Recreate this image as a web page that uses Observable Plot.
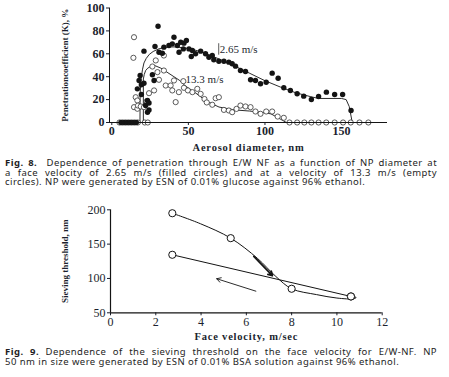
<!DOCTYPE html>
<html>
<head>
<meta charset="utf-8">
<script src="https://cdn.jsdelivr.net/npm/d3@7"></script>
<script src="https://cdn.jsdelivr.net/npm/@observablehq/plot@0.6"></script>
<style>
  html, body { margin: 0; padding: 0; background: #fff; }
  body { width: 449px; height: 377px; position: relative; overflow: hidden; }
  .chart { position: absolute; left: 0; }
  .cap { position: absolute; left: 5px; width: 432px; font-family: "Noto Sans", sans-serif; font-size: 9.5px; letter-spacing: 0.45px; line-height: 9.6px; color: #1e1e24; }
  .cap div { text-align: justify; text-align-last: justify; white-space: nowrap; height: 9.6px; }
  .cap div.last { text-align-last: left; }
  .cap b { font-weight: bold; }
  svg g[aria-label="x-axis label"] text { font-size: 10.5px; font-weight: bold; letter-spacing: 0.8px; }
  svg g[aria-label="y-axis label"] text { font-size: 9px; font-weight: bold; }
</style>
</head>
<body>
<div id="c8" class="chart" style="top:0px"></div>
<div class="cap" style="top:158px">
  <div><b>Fig. 8.</b>&nbsp; Dependence of penetration through E/W NF as a function of NP diameter at</div>
  <div>a face velocity of 2.65 m/s (filled circles) and at a velocity of 13.3 m/s (empty</div>
  <div class="last">circles). NP were generated by ESN of 0.01% glucose against 96% ethanol.</div>
</div>
<div id="c9" class="chart" style="top:195px"></div>
<div class="cap" style="top:347px">
  <div><b>Fig. 9.</b> Dependence of the sieving threshold on the face velocity for E/W-NF. NP</div>
  <div class="last">50 nm in size were generated by ESN of 0.01% BSA solution against 96% ethanol.</div>
</div>
<script>
// ---------- Fig. 8 data: [diameter nm, penetration %] ----------
const filled265 = [
  [6,0],[8,0],[10,0],[12,0],[14,0],[16,0],
  [16.7,29.4],[17.8,36.7],[18.5,41],[19.3,33],[19.3,24.5],[21,62.3],[21,34.3],
  [22.1,14.8],[23.3,19.2],[23.3,9],[24.3,11],[24.3,17],[26.5,41.7],[27.6,36.7],
  [30.2,84],[28.2,66.4],[30.8,61.4],[33,60.5],[34,65.8],[37.3,67.2],[39.5,68.7],
  [40.6,74.5],[42.8,67.2],[43.9,61.4],[45,70.1],[46.7,64.3],[47.1,69.3],[48.7,71.6],
  [50.4,64.3],[51.9,57.6],[52.6,62.9],[54.7,60],[58,62.3],[61.2,60],[63.4,57],
  [65.6,58.5],[66.6,54.8],[69.9,53.5],[73.2,53.5],[76.4,52.7],[78.6,51.3],[80.8,49.2],
  [84,45.4],[87.3,44.5],[90.6,37.3],[93.8,36.7],[97.1,33.8],[100.8,35.2],[104.7,43.1],
  [108.6,38.7],[112.3,30.3],[116.6,27.9],[121,25.1],[125.3,23],[130.3,20.1],[135,22.7],
  [140.1,26.5],[145.5,24.5],[150.7,24.5],[156.2,10.5]
];
const open133 = [
  [5,0],[7,0],[9,0],[11,0],[13,0],[15,0],[17,0],[21.5,0],[23.5,0],
  [14.5,74.5],[14.1,56.5],[15.6,22.1],[16.7,19.2],[14.5,13.4],[16.7,12],[17.1,14.8],
  [18.9,14],[21,13.4],[22.8,18.6],[24.3,25.6],[27.6,28],[28.7,54.2],[34,58.5],
  [26.5,48.9],[29.8,44],[34,45.4],[30.8,37.3],[35.2,32.3],[38.4,32.3],[40.6,36.7],
  [46.7,36.1],[39.5,28],[43.8,26.5],[41.7,17.8],[47.1,30.3],[49.7,28],[52.6,26.5],
  [55.8,29.4],[58,25],[60.5,20.5],[62,17.5],[65.6,15.5],[67.8,21.2],[69.9,22.1],
  [73.2,11],[76.4,10.5],[78.6,9],[81.4,11.9],[84,14.8],[87.3,14],[90.6,13.4],
  [93.8,9.6],[97.1,7.6],[100.8,9.6],[104.7,9.6],[108.3,5.2],[112.3,4.1],
  [116,0],[121,0],[125.7,0],[130.3,0],[135,0],[140,0],[145.5,0],[151,0],[156,0],[161.7,0],[167.5,0]
];
const fit265 = [
  [5,0],[18.4,0],[18.5,25],[19,37],[20,46],[21,52],[22.5,56],[24.5,59.5],[27,62],
  [31,64.5],[37,66],[42,66],[48,65],[55,63],[60,61],[70,55.5],[80,49.5],[90,43],
  [100,36.5],[110,31],[120,26],[130,22.5],[135,21],[150,21],[153,20],[155,14],[157,0],[160,0]
];
const fit133 = [
  [5,0],[20.6,0],[20.6,38],[21.2,42],[22.1,45.4],[23.5,47.5],[25.4,49],[28.5,49.5],
  [32,47.5],[36,44],[40,40.5],[44,37],[48,32],[55,25.5],[62,18.5],[70,13.5],[80,11],
  [90,10],[100,8.5],[104,7.5],[110,3],[114,0],[175,0]
];
const labels8 = [
  {text: "2.65 m/s", x: 70.4, y: 63.8, bar: true},
  {text: "13.3 m/s", x: 48.2, y: 37.5, bar: false}
];
const xTicks8 = [0, 50, 100, 150];
const yTicks8 = [0, 20, 40, 60, 80, 100];
const xDomain8 = [-1.5, 180];
const yDomain8 = [0, 100];

// ---------- Fig. 9 data: [face velocity m/s, sieving threshold nm] ----------
const upperPts = [[2.73,195],[5.31,158.7],[8.0,85],[10.62,73.8]];
const upperPath = [[2.73,195],[3.98,179.6],[5.31,158.7],[6.5,129],[7.3,103],[8.0,85],[9.1,76.5],[10.0,71.5],[10.75,70.5],[10.85,72.4],[10.62,73.8]];
const lowerPts = [[2.73,134.5],[10.62,73.8]];
const arrows9 = [
  {x1: 6.33, y1: 132, x2: 7.15, y2: 104, w: 1.8},
  {x1: 6.42, y1: 81.5, x2: 4.69, y2: 99.6, w: 0.9}
];
const xTicks9 = [0, 2, 4, 6, 8, 10, 12];
const yTicks9 = [50, 100, 150, 200];
const xDomain9 = [0, 12];
const yDomain9 = [50, 200];

const ink = "#141414";
const tickInk = "#1b1f2e";

// ---------- Fig. 8 ----------
const p8 = Plot.plot({
  width: 449, height: 152,
  marginLeft: 109, marginRight: 62, marginTop: 7.5, marginBottom: 30,
  style: {fontFamily: "'Liberation Serif', serif", background: "transparent", color: tickInk},
  x: {domain: xDomain8},
  y: {domain: yDomain8},
  marks: [
    Plot.axisX({ticks: xTicks8, tickSize: 3, tickPadding: 1, fontSize: 12, fontWeight: "bold",
      label: "Aerosol diameter, nm", labelAnchor: "center", labelArrow: false, labelOffset: 28, tickFormat: d => String(d)}),
    Plot.axisY({ticks: yTicks8, tickSize: 3, tickPadding: 2, fontSize: 12, fontWeight: "bold",
      label: "Penetrationcoefficient (K), %", labelAnchor: "center", labelArrow: false, labelOffset: 48, tickFormat: d => String(d)}),
    Plot.ruleX([xDomain8[0]], {stroke: ink, strokeWidth: 1}),
    Plot.line(fit265, {x: d => d[0], y: d => d[1], stroke: ink, strokeWidth: 0.9}),
    Plot.line(fit133, {x: d => d[0], y: d => d[1], stroke: ink, strokeWidth: 0.9}),
    Plot.dot(open133, {x: d => d[0], y: d => d[1], r: 2.6, fill: "white", stroke: "#333", strokeWidth: 0.8}),
    Plot.ruleY([yDomain8[0]], {stroke: ink, strokeWidth: 1}),
    Plot.dot(filled265, {x: d => d[0], y: d => d[1], r: 2.7, fill: ink, stroke: "none"}),
    Plot.ruleX(labels8.filter(d => d.bar), {x: d => d.x - 0.6, y1: d => d.y - 5, y2: d => d.y + 5, stroke: "#333", strokeWidth: 0.8}),
    Plot.text(labels8, {x: "x", y: "y", text: "text", textAnchor: "start", lineAnchor: "middle", fontSize: 11, fill: tickInk})
  ]
});
document.getElementById("c8").append(p8);

// ---------- Fig. 9 ----------
const p9 = Plot.plot({
  width: 449, height: 147,
  marginLeft: 110, marginRight: 67.3, marginTop: 14.3, marginBottom: 29.7,
  style: {fontFamily: "'Liberation Serif', serif", background: "transparent", color: tickInk},
  x: {domain: xDomain9},
  y: {domain: yDomain9},
  marks: [
    Plot.axisX({ticks: xTicks9, tickSize: 3, tickPadding: 1.5, fontSize: 12,
      label: "Face velocity, m/sec", labelAnchor: "center", labelArrow: false, labelOffset: 27, tickFormat: d => String(d)}),
    Plot.axisY({ticks: yTicks9, tickSize: 3, tickPadding: 2, fontSize: 12,
      label: "Sieving threshold, nm", labelAnchor: "center", labelArrow: false, labelOffset: 49, tickFormat: d => String(d)}),
    Plot.ruleX([xDomain9[0]], {stroke: ink, strokeWidth: 1.2}),
    Plot.ruleY([yDomain9[0]], {stroke: ink, strokeWidth: 1.2}),
    Plot.line(upperPath, {x: d => d[0], y: d => d[1], curve: "catmull-rom", stroke: ink, strokeWidth: 1}),
    Plot.line(lowerPts, {x: d => d[0], y: d => d[1], stroke: ink, strokeWidth: 1}),
    Plot.arrow(arrows9, {x1: "x1", y1: "y1", x2: "x2", y2: "y2", strokeWidth: d => d.w, stroke: ink, headLength: 7, insetStart: 0, insetEnd: 0}),
    Plot.dot(upperPts.concat(lowerPts), {x: d => d[0], y: d => d[1], r: 3.6, fill: "white", stroke: ink, strokeWidth: 1})
  ]
});
document.getElementById("c9").append(p9);
</script>
</body>
</html>
